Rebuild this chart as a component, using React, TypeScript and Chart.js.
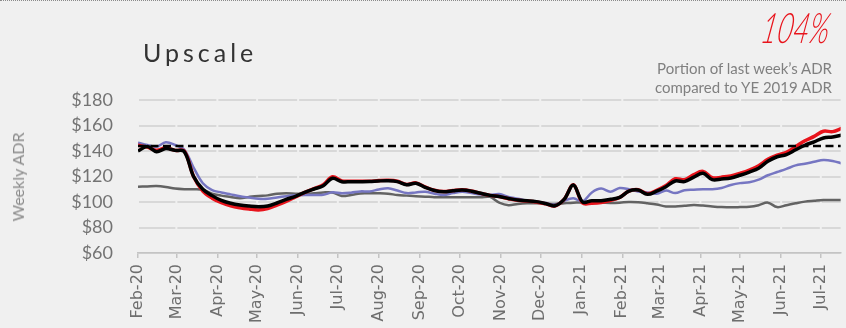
import { useEffect, useRef } from 'react';
import { Chart, registerables } from 'chart.js';

Chart.register(...registerables);

// Weekly series start date; every value below is one week apart.
const firstWeek = '2020-02-01';

// Month ticks on the date axis
const monthTicks = [
  '2020-02-01', '2020-03-01', '2020-04-01', '2020-05-01', '2020-06-01', '2020-07-01',
  '2020-08-01', '2020-09-01', '2020-10-01', '2020-11-01', '2020-12-01', '2021-01-01',
  '2021-02-01', '2021-03-01', '2021-04-01', '2021-05-01', '2021-06-01', '2021-07-01',
];
const monthLabels = [
  'Feb-20', 'Mar-20', 'Apr-20', 'May-20', 'Jun-20', 'Jul-20', 'Aug-20', 'Sep-20', 'Oct-20',
  'Nov-20', 'Dec-20', 'Jan-21', 'Feb-21', 'Mar-21', 'Apr-21', 'May-21', 'Jun-21', 'Jul-21',
];

// Year-end 2019 ADR reference level
const ye2019Adr = 144;

// Weekly ADR series (USD)
const weeklyAdrBlack = [
  140, 143.5, 139.5, 142, 140.5, 139.5, 120, 110, 105, 101.2,
  99, 97.6, 96.8, 96.3, 96.8, 99.2, 102, 104.5, 107.5, 110.2,
  112.8, 118.6, 115.9, 115.9, 115.9, 116, 116.5, 116.7, 116, 113.5,
  114.7, 111.5, 109, 108, 108.8, 109.4, 108.5, 106.8, 105.2, 104.3,
  102.8, 101.5, 101, 100.3, 98.8, 97, 102, 113.3, 100, 101,
  101, 102.1, 103.7, 108.5, 109.4, 106, 108.5, 112, 116.5, 116,
  119.5, 122.5, 117.5, 118, 118.8, 121, 123.5, 126.5, 132, 135.5,
  137.2, 141, 144.5, 147.2, 150.2, 151, 152.5,
];
const weeklyAdrRed = [
  144.5, 143, 140.5, 142.5, 140.5, 140, 120, 108.5, 103, 99.5,
  97, 95.5, 94.5, 93.8, 94.8, 97.5, 100.5, 104, 107.5, 110.5,
  113.5, 119.8, 116.5, 116.3, 116.3, 116.3, 116.8, 117, 116.3, 113.8,
  115, 111.8, 109.2, 108.2, 109, 109.6, 108.6, 106.8, 105.2, 104.2,
  102.6, 101.3, 100.8, 100, 98.6, 96.9, 102, 113.5, 99.2, 99,
  99.5, 101.2, 103.5, 108.5, 109.6, 106.5, 109.2, 113, 118.2, 117.5,
  121.5, 124, 119, 119.5, 120.5, 122.5, 125, 128.5, 133.5, 136.8,
  139, 143.5, 148, 151.5, 155.5, 155.2, 157.8,
];
const weeklyAdrBlue = [
  146.5, 144.7, 143.4, 146.8, 144.7, 141, 127, 114.7, 109.4, 107.5,
  106, 104.5, 103.5, 102.5, 102.5, 103.6, 104.5, 105.2, 105.5, 105.5,
  105.6, 107.6, 106.8, 107.3, 108.3, 108.3, 109.8, 110.7, 109, 107,
  107.5, 108.1, 106.5, 105.5, 107, 108, 107, 105.8, 105.5, 106.2,
  104, 102.6, 101, 100.3, 99.3, 97.8, 101, 102.9, 100.5, 107.5,
  110.5, 108, 111, 110, 108.2, 107.5, 106.5, 109, 107, 109.2,
  109.6, 110, 110, 111, 113.3, 114.8, 115.5, 117.5, 121, 123.5,
  126, 128.7, 130, 131.5, 133, 132.2, 130.2,
];
const weeklyAdrGray = [
  112, 112.2, 112.5, 111.8, 110.5, 110, 110, 109.6, 106.5, 105,
  104, 103, 104, 104.8, 105.2, 106.5, 106.8, 106.5, 106.3, 106.8,
  107.5, 107.5, 104.7, 105.5, 106.7, 106.8, 106.8, 106.5, 105.5, 105,
  104.5, 104.2, 103.8, 103.7, 103.7, 103.7, 103.7, 103.7, 104, 99.5,
  97.5, 98.5, 99, 99, 98.7, 98.4, 99, 99.5, 99.5, 99.5,
  99.5, 99.3, 99.5, 100, 99.8, 99, 98, 96.5, 96.5, 97,
  97.6, 97.2, 96.5, 96, 95.8, 96, 96.3, 97.5, 99.5, 96,
  97.5, 99, 100.3, 101, 101.6, 101.6, 101.6,
];

// Visible date window, in days after the first week
const xStartDay = 0;
const xEndDay = 531;

const DAY_MS = 86400000;
const dayOffset = (iso: string) => (Date.parse(iso) - Date.parse(firstWeek)) / DAY_MS;
const tickDays = monthTicks.map(dayOffset);
const weekly = (vals: number[]) => vals.map((y, i) => ({ x: i * 7, y }));

const BG = '#f0f0f0';
const FONT = 'Lato, "Open Sans", sans-serif';
const AXIS_FONT = '"DejaVu Sans", Lato, sans-serif';

// Breaks the horizontal gridlines at each month, like a light vertical grid.
const monthGaps = {
  id: 'monthGaps',
  beforeDatasetsDraw(chart: any) {
    const { ctx, chartArea, scales } = chart;
    ctx.save();
    ctx.strokeStyle = BG;
    ctx.lineWidth = 2;
    tickDays.forEach((d) => {
      const x = scales.x.getPixelForValue(d);
      ctx.beginPath();
      ctx.moveTo(x, chartArea.top - 3);
      ctx.lineTo(x, chartArea.bottom - 2);
      ctx.stroke();
    });
    ctx.restore();
  },
};

export default function App() {
  const canvasRef = useRef<HTMLCanvasElement | null>(null);

  useEffect(() => {
    document.body.style.margin = '0';
    const canvas = canvasRef.current;
    if (!canvas) return;
    const lastDay = (weeklyAdrBlack.length - 1) * 7;
    const chart = new Chart(canvas, {
      type: 'line',
      data: {
        datasets: [
          {
            label: 'YE 2019 ADR',
            data: [{ x: 0, y: ye2019Adr }, { x: lastDay, y: ye2019Adr }],
            borderColor: '#000000',
            borderWidth: 2.5,
            borderDash: [8, 4.5],
            pointRadius: 0,
            order: 0,
          },
          {
            label: 'Black',
            data: weekly(weeklyAdrBlack),
            borderColor: '#000000',
            borderWidth: 3.5,
            pointRadius: 0,
            tension: 0.35,
            order: 1,
          },
          {
            label: 'Red',
            data: weekly(weeklyAdrRed),
            borderColor: '#e8141c',
            borderWidth: 3.5,
            pointRadius: 0,
            tension: 0.35,
            order: 2,
          },
          {
            label: 'Blue',
            data: weekly(weeklyAdrBlue),
            borderColor: '#7676c2',
            borderWidth: 2.5,
            pointRadius: 0,
            tension: 0.35,
            order: 3,
          },
          {
            label: 'Gray',
            data: weekly(weeklyAdrGray),
            borderColor: '#636363',
            borderWidth: 2.5,
            pointRadius: 0,
            tension: 0.35,
            order: 4,
          },
        ],
      },
      options: {
        responsive: false,
        animation: false,
        devicePixelRatio: 1,
        layout: { padding: { top: 100, left: 0, right: 0, bottom: 0 } },
        plugins: { legend: { display: false }, tooltip: { enabled: false } },
        scales: {
          x: {
            type: 'linear',
            min: xStartDay,
            max: xEndDay,
            afterBuildTicks: (scale: any) => {
              scale.ticks = tickDays.map((v) => ({ value: v }));
            },
            afterFit: (scale: any) => {
              scale.height = 75;
            },
            ticks: {
              autoSkip: false,
              maxRotation: 90,
              minRotation: 90,
              padding: 6,
              color: '#6e6e6e',
              font: { family: AXIS_FONT, size: 16 },
              callback: (_v: any, i: number) => monthLabels[i],
            },
            grid: {
              drawOnChartArea: false,
              drawTicks: true,
              tickLength: 5,
              color: '#c4c4c4',
              lineWidth: 1.5,
            },
            border: { display: true, color: '#c4c4c4', width: 1.5 },
          },
          y: {
            min: 60,
            max: 180,
            afterFit: (scale: any) => {
              scale.width = 138;
            },
            ticks: {
              stepSize: 20,
              padding: 25,
              color: '#737373',
              font: { family: FONT, size: 18 },
              callback: (v: any) => '$' + v,
            },
            grid: { color: '#d8d8d8', lineWidth: 2, drawTicks: false },
            border: { display: false },
          },
        },
      },
      plugins: [monthGaps],
    } as any);
    return () => chart.destroy();
  }, []);

  return (
    <div
      style={{
        position: 'relative',
        width: 846,
        height: 328,
        overflow: 'hidden',
        background: BG,
        fontFamily: FONT,
      }}
    >
      <div
        style={{
          position: 'absolute',
          left: 0,
          top: 0,
          width: 846,
          borderTop: '1px dotted #8a8a8a',
        }}
      />
      <canvas ref={canvasRef} width={846} height={328} style={{ position: 'absolute', left: 0, top: 0 }} />
      <div
        style={{
          position: 'absolute',
          left: 143,
          top: 40,
          fontSize: 25,
          lineHeight: 1,
          letterSpacing: 4,
          color: '#333333',
          whiteSpace: 'nowrap',
        }}
      >
        Upscale
      </div>
      <div
        style={{
          position: 'absolute',
          right: 16,
          top: 6,
          fontSize: 42,
          lineHeight: 1,
          fontStyle: 'italic',
          fontWeight: 300,
          color: '#e8141c',
          transform: 'scaleX(0.66) skewX(-16deg)',
          transformOrigin: 'right center',
          whiteSpace: 'nowrap',
        }}
      >
        104%
      </div>
      <div
        style={{
          position: 'absolute',
          right: 14,
          top: 59,
          fontSize: 15,
          lineHeight: '18.5px',
          color: '#808080',
          textAlign: 'right',
          whiteSpace: 'nowrap',
        }}
      >
        <div>Portion of last week’s ADR</div>
        <div>compared to YE 2019 ADR</div>
      </div>
      <div
        style={{
          position: 'absolute',
          left: 18,
          top: 177,
          fontSize: 16,
          lineHeight: 1,
          color: '#8a8a8a',
          whiteSpace: 'nowrap',
          transform: 'translate(-50%, -50%) rotate(-90deg)',
        }}
      >
        Weekly ADR
      </div>
    </div>
  );
}
